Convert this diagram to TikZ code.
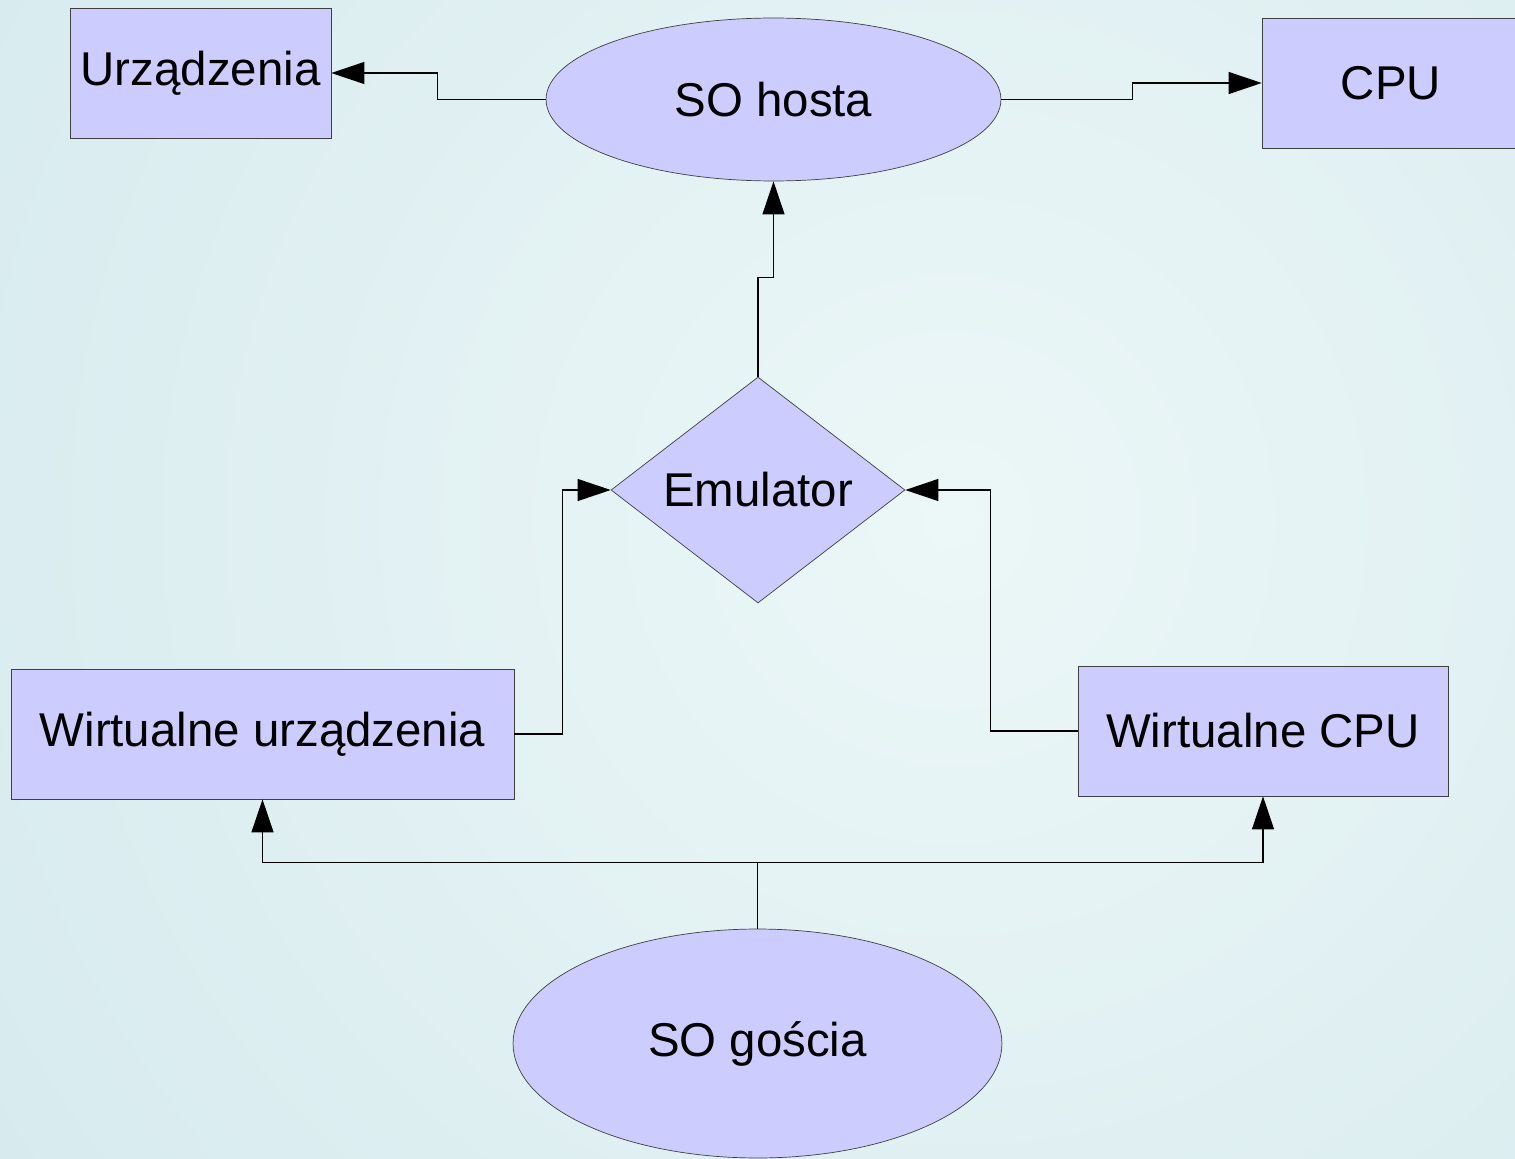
\documentclass[tikz,border=0pt]{standalone}
\usepackage{fontspec}
\setmainfont{Liberation Sans}
\usepackage{tikz}
\usetikzlibrary{arrows.meta, shapes}

\definecolor{boxfill}{RGB}{204,204,255}
\definecolor{bgedge}{RGB}{190,220,228}
\definecolor{bgmid}{RGB}{236,247,247}

\begin{document}
\begin{tikzpicture}[
    x=0.02cm, y=-0.02cm,
    every node/.style={font=\fontsize{27}{32}\selectfont, text=black},
    box/.style={rectangle, draw=black!75, fill=boxfill, inner sep=0pt, minimum height=2.6cm},
    os/.style={ellipse, draw=black!75, fill=boxfill, inner sep=0pt},
    decision/.style={diamond, draw=black!75, fill=boxfill, inner sep=0pt, aspect=1.3,
        minimum width=5.88cm, minimum height=4.52cm},
    conn/.style={draw=black, line width=0.6pt, -{Triangle[length=0.66cm, width=0.44cm]}}
]
% background
\useasboundingbox (0,0) rectangle (1515,1159);
\begin{scope}
    \clip (0,0) rectangle (1515,1159);
    \shade[inner color=bgmid, outer color=bgedge] (950,520) circle (2500);
\end{scope}

% nodes
\node [box, minimum width=5.22cm] (urz) at (200.5,73) {Urządzenia};
\node [os, minimum width=9.1cm, minimum height=3.26cm] (hosta) at (773.5,99.5) {SO hosta};
\node [box, minimum width=5.16cm] (cpu) at (1391,83) {CPU};
\node [decision] (emu) at (758,490) {Emulator};
\node [box, minimum width=10.06cm] (wurz) at (262.5,734) {Wirtualne urządzenia};
\node [box, minimum width=7.4cm] (wcpu) at (1263,731) {Wirtualne CPU};
\node [os, minimum width=9.78cm, minimum height=4.58cm] (gosc) at (757.5,1043.5) {SO gościa};

% connectors
\draw[conn] (hosta.west) -- ++(-108,0) |- (urz.east);
\draw[conn] (hosta.east) -- ++(131,0) |- (cpu.west);
\draw[conn] (emu.north) -- ++(0,-99) -| (hosta.south);
\draw[conn] (wurz.east) -- ++(48,0) |- (emu.west);
\draw[conn] (wcpu.west) -- ++(-87,0) |- (emu.east);
\draw[draw=black, line width=0.6pt] (gosc.north) -- ++(0,-66) coordinate (split);
\draw[conn] (split) -| (wurz.south);
\draw[conn] (split) -| (wcpu.south);
\end{tikzpicture}
\end{document}
